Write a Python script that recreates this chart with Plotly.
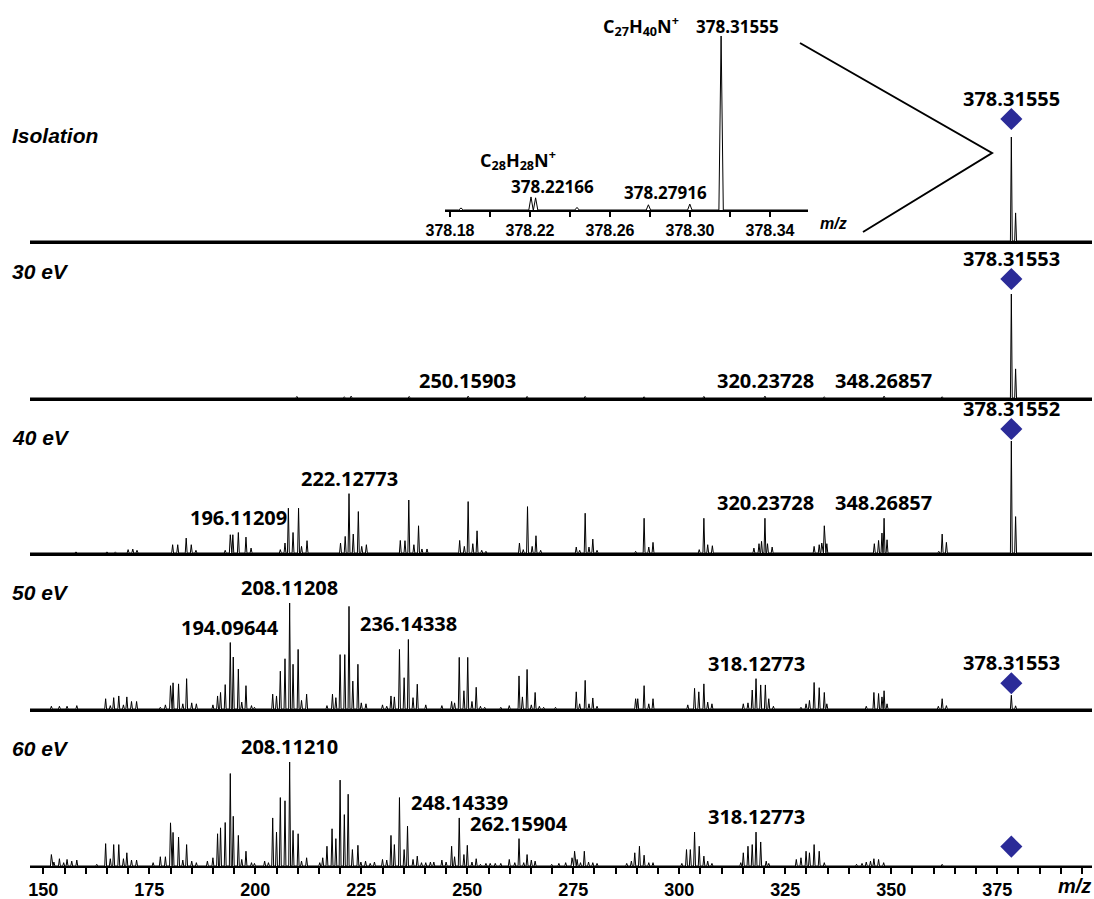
import plotly.graph_objects as go

# ---------------- data (m/z, relative intensity per panel) ----------------
panel_names = ["Isolation", "30 eV", "40 eV", "50 eV", "60 eV"]

iso_mz = [378.316, 379.32]
iso_int = [100, 27]

ev30_mz = [209.8, 221.0, 222.6, 236.3, 250.2, 264.1, 277.8, 291.7, 305.8, 320.2, 334.2, 348.3, 362.0, 378.316, 379.32]
ev30_int = [1.5, 1.2, 1.8, 1.5, 1.8, 1.5, 1.5, 1.2, 1.5, 1.8, 1.2, 1.8, 1.2, 100, 28]

ev40_mz = [157.7, 165.0, 167.0, 170.0, 171.1, 172.1,
           180.5, 181.7, 183.7, 184.9, 186.0,
           192.9, 194.1, 194.7, 196.0, 197.8, 199.0,
           205.9, 207.0, 207.8, 208.9, 210.2, 210.9, 212.2,
           220.1, 221.2, 222.1, 223.1, 224.3, 225.1, 226.2,
           234.2, 235.3, 236.2, 237.4, 238.5, 239.3, 240.5,
           248.2, 249.3, 250.2, 251.3, 252.3, 253.4, 254.4,
           262.3, 263.2, 264.2, 265.3, 266.2, 267.3,
           275.7, 276.5, 277.8, 278.7, 279.6, 280.6,
           289.7, 291.7, 292.8, 293.8,
           304.7, 305.8, 306.7, 307.8,
           317.6, 318.8, 319.4, 320.2, 320.8, 321.9,
           331.8, 333.0, 333.6, 334.2, 334.8,
           346.0, 347.0, 347.8, 348.3, 349.0,
           361.2, 362.0, 363.0,
           378.316, 379.32]
ev40_int = [1, 1, 1, 3, 3.5, 2.4,
            7.4, 7.4, 13.3, 7.4, 2.4,
            2.4, 16.3, 16.3, 18.3, 14.2, 4.4,
            3, 8.9, 40, 18.3, 40, 5.9, 11,
            8.9, 14.8, 53, 16.9, 37, 5.9, 7.4,
            11.2, 11, 47.3, 7.4, 24.3, 3.6, 3.6,
            11.2, 5.9, 45.9, 8.3, 19.8, 2.4, 1.5,
            8.9, 3, 41.4, 5.9, 15.4, 2.4,
            5.3, 2.4, 35.5, 5.3, 12.4, 2.4,
            1.5, 31, 5.3, 9.5,
            3, 31, 7.4, 6.5,
            4.4, 8.3, 10.4, 31, 8.3, 5.3,
            5.9, 7.4, 8.9, 24.3, 8.3,
            8.3, 11.2, 17.8, 31, 11.8,
            1.5, 16.9, 9.5,
            100, 32.5]

ev50_mz = [151.9, 153.8, 155.6, 157.9,
           164.7, 165.8, 166.6, 167.8, 168.9, 169.7, 170.8, 172.0,
           177.6, 178.8, 180.0, 180.6, 181.9, 182.9, 183.8, 185.0, 186.1,
           190.0, 191.1, 191.8, 192.9, 194.1, 194.8, 196.0, 196.8, 197.8, 199.1, 199.8,
           204.1, 205.0, 205.9, 207.0, 208.1, 208.9, 210.1, 210.9, 212.1,
           216.9, 218.2, 219.0, 220.0, 221.1, 222.1, 223.0, 224.2, 225.0, 226.1,
           230.0, 231.0, 232.0, 232.8, 234.0, 235.1, 236.1, 237.2, 238.2, 240.2,
           244.0, 246.3, 247.0, 248.1, 249.2, 250.1, 251.1, 252.1, 253.1, 254.1,
           257.9, 259.9, 262.2, 263.0, 264.1, 265.1, 266.0, 267.0, 268.0,
           270.8, 275.7, 276.5, 277.8, 278.7, 279.6, 280.6,
           289.7, 290.2, 291.7, 292.8, 293.8,
           302.0, 303.6, 304.6, 305.8, 306.7, 307.7,
           315.1, 316.2, 317.2, 318.1, 319.2, 320.3, 321.1, 322.2,
           328.7, 329.9, 330.7, 331.8, 333.0, 334.2, 334.8,
           344.1, 345.9, 347.0, 347.8, 348.3, 349.0,
           361.1, 362.0, 363.0,
           378.316, 379.32]
ev50_int = [2.6, 2.6, 2.6, 3.2,
            9.7, 3.2, 10.7, 12.3, 3.9, 11.4, 7.1, 7.1,
            1.6, 3.9, 22, 24.7, 23.7, 4.9, 28.6, 5.8, 4.9,
            3.9, 12.3, 15.6, 23, 62.7, 49, 37.7, 6.5, 22, 3.2, 1.6,
            14, 12.3, 35.7, 47.4, 100, 42.2, 56.2, 8.1, 14,
            3.2, 14, 10.7, 51.3, 51.3, 96.8, 26.3, 42.2, 5.8, 4.9,
            3.9, 2.6, 12.3, 11.4, 56.2, 29.5, 65.6, 10.7, 23.4, 3.9,
            3.2, 7.1, 5.8, 48.7, 17.2, 48.7, 7.1, 20.5, 2.6, 1.6,
            1.6, 3.2, 31.2, 11.4, 37.3, 3.9, 15.6, 2.6, 1.6,
            1.6, 16.2, 4.9, 27, 4.9, 10.4, 2.6,
            9.7, 9.7, 22, 4.9, 9.7,
            3.9, 19.5, 16.2, 23.7, 6.5, 4.9,
            4.9, 5.8, 17.9, 28.6, 22.7, 22.7, 9.7, 2.6,
            1.6, 4.9, 8.1, 25, 20.1, 15.6, 4.9,
            2.6, 15.6, 14.6, 11.4, 17.2, 4.9,
            2.6, 9.7, 3.2,
            13, 3]

ev60_mz = [151.9, 152.5, 153.8, 154.8, 155.6, 156.7, 157.9, 162.6,
           164.7, 165.8, 166.6, 167.8, 168.9, 169.7, 170.8, 172.0,
           175.9, 177.6, 178.8, 180.0, 180.6, 181.9, 182.9, 183.8, 185.0, 186.1,
           188.7, 190.0, 191.1, 191.8, 192.9, 194.1, 194.8, 196.0, 196.8, 197.8, 199.1, 199.8,
           202.2, 203.1, 204.1, 205.0, 205.9, 207.0, 208.1, 208.9, 210.1, 210.9, 212.1,
           215.2, 215.9, 216.9, 218.1, 219.0, 220.0, 221.0, 221.9, 222.9, 224.2, 224.9, 226.0, 227.1, 228.1,
           230.0, 231.0, 232.0, 232.8, 234.0, 235.1, 235.9, 237.2, 238.2, 239.2, 240.2, 241.3, 242.1, 244.0, 245.0,
           246.3, 247.0, 248.1, 249.2, 250.0, 251.1, 252.1, 253.1, 254.4, 255.4, 256.6, 257.9, 259.9, 261.2,
           262.2, 263.3, 264.1, 265.1, 266.0,
           269.9, 271.6, 273.2, 274.7, 275.3, 275.9, 276.7, 277.6, 278.6, 279.6, 280.6,
           287.6, 288.7, 289.5, 290.6, 291.7, 292.8, 293.8,
           300.6, 301.7, 302.6, 303.6, 304.7, 305.8, 306.7, 307.7,
           314.5, 315.1, 316.2, 317.2, 318.1, 319.2, 320.5, 321.1,
           327.6, 328.7, 329.9, 330.7, 331.8, 333.0, 334.2,
           341.8, 343.1, 344.1, 345.1, 345.9, 347.0, 348.2,
           362.0, 378.316]
ev60_int = [11, 3.8, 7, 3.2, 6.3, 4.7, 5.7, 1.6,
            21.5, 7, 20.6, 20.6, 7, 12.7, 5.7, 5.7,
            3.2, 8.9, 8.9, 41.5, 32.3, 27.8, 5.7, 20.6, 4.7, 3.2,
            4.7, 7.9, 31, 36.7, 41.8, 88.9, 47.8, 29.4, 6.3, 14.2, 3.2, 2.5,
            4.7, 3.2, 46.2, 32.6, 65.8, 62.7, 100, 34.2, 31, 4.7, 7.9,
            3.2, 7.9, 19, 35.8, 26.3, 82.6, 49.4, 69, 15.8, 19.9, 3.8, 4.7, 2.5, 3.8,
            6.3, 5.7, 29.4, 20.6, 65.8, 15.8, 38.3, 6.3, 9.5, 3.2, 3.2, 3.8, 3.8, 5.7, 3.8,
            19, 8.9, 46.2, 11, 19.9, 3.8, 7, 1.6, 2.5, 2.5, 2.5, 2.5, 6.3, 3.2,
            26.3, 3.2, 11, 5.7, 4.7,
            1.6, 2.5, 3.2, 7.9, 14.2, 6.3, 3.2, 14.2, 3.8, 3.2, 2.5,
            2.5, 4.7, 12.7, 19, 10.4, 3.2, 3.2,
            2.5, 15.8, 15.8, 32.6, 19, 9.5, 4.7, 2.5,
            3.2, 12.7, 19, 20.6, 32.6, 23.1, 4.7, 2.5,
            6.3, 7.9, 14.2, 12.7, 20.6, 14.2, 3.2,
            1.6, 2.5, 3.8, 4.7, 7, 6.3, 3.2,
            1.6, 0.4]

# labelled fragment peaks per panel
iso_labels = []
ev30_labels = [(250.15903, "250.15903"), (320.23728, "320.23728"), (348.26857, "348.26857")]
ev40_labels = [(196.11209, "196.11209"), (222.12773, "222.12773"), (320.23728, "320.23728"), (348.26857, "348.26857")]
ev50_labels = [(194.09644, "194.09644"), (208.11208, "208.11208"), (236.14338, "236.14338"), (318.12773, "318.12773")]
ev60_labels = [(208.11210, "208.11210"), (248.14339, "248.14339"), (262.15904, "262.15904"), (318.12773, "318.12773")]
precursor_labels = ["378.31555", "378.31553", "378.31552", "378.31553", None]
precursor_mz = 378.316

# inset (isolation window zoom)
inset_mz = [378.1855, 378.2205, 378.2228, 378.2435, 378.2792, 378.2999, 378.31555]
inset_int = [1.2, 7.5, 7.0, 1.5, 3.0, 3.4, 100]
inset_labels = [(378.31555, "378.31555"), (378.22166, "378.22166"), (378.27916, "378.27916")]
inset_ticks = [378.18, 378.22, 378.26, 378.30, 378.34]

x_ticks = [150, 175, 200, 225, 250, 275, 300, 325, 350, 375]

# ---------------- layout helpers ----------------
W, H = 1094, 899
def fy(px):
    return 1 - px / H
def fx(px):
    return px / W

X0, X1 = 146.86, 397.34
PANEL_H = 150
# (baseline pixel, pixel height of 100 %, diamond offset px)
geo = [(241, 104, 18), (398, 104, 15), (553, 112, 12), (709, 106, 12), (866, 104, 19)]
panels = [(iso_mz, iso_int, iso_labels), (ev30_mz, ev30_int, ev30_labels),
          (ev40_mz, ev40_int, ev40_labels), (ev50_mz, ev50_int, ev50_labels),
          (ev60_mz, ev60_int, ev60_labels)]

def profile(mz, inten, hw, lo, hi):
    pairs = sorted(zip(mz, inten))
    xs, ys = [lo], [0]
    for m, h in pairs:
        xs += [m - hw, m, m + hw]
        ys += [0, h, 0]
    xs.append(hi)
    ys.append(0)
    return xs, ys

def peak_height(mz, inten, target, tol=0.6):
    best = 0
    for m, h in zip(mz, inten):
        if abs(m - target) <= tol and h > best:
            best = h
    return best

LBL_FONT = dict(family="Open Sans, DejaVu Sans, sans-serif", size=20, color="black", weight="bold")
BLUE = "#2b2b98"

fig = go.Figure()
layout = dict(width=W, height=H, margin=dict(l=0, r=0, t=0, b=0, pad=0, autoexpand=False),
              template="none",
              paper_bgcolor="white", plot_bgcolor="white", showlegend=False)
annotations = []

for i, ((mz, inten, labels), (base, h100, doff)) in enumerate(zip(panels, geo)):
    k = i + 1
    R = 100.0 * PANEL_H / h100
    per_px = R / PANEL_H
    xs, ys = profile(mz, inten, 0.22, X0, X1)
    fig.add_trace(go.Scatter(x=xs, y=ys, mode="lines", line=dict(color="black", width=1),
                             xaxis=f"x{k}", yaxis=f"y{k}", hoverinfo="skip"))
    # precursor diamond
    ph = peak_height(mz, inten, precursor_mz, 0.2)
    dy = ph + doff * per_px
    fig.add_trace(go.Scatter(x=[precursor_mz], y=[dy], mode="markers",
                             marker=dict(symbol="diamond", size=17, color=BLUE, line=dict(width=0)),
                             xaxis=f"x{k}", yaxis=f"y{k}", cliponaxis=False, hoverinfo="skip"))
    if precursor_labels[i]:
        annotations.append(dict(x=precursor_mz, y=dy, xref=f"x{k}", yref=f"y{k}",
                                text=precursor_labels[i], showarrow=False, xanchor="center",
                                yanchor="middle", yshift=21, font=LBL_FONT))
    for m, t in labels:
        annotations.append(dict(x=m, y=peak_height(mz, inten, m), xref=f"x{k}", yref=f"y{k}",
                                text=t, showarrow=False, xanchor="center", yanchor="bottom",
                                yshift=0, font=LBL_FONT))
    xa = dict(domain=[fx(30), fx(1092)], range=[X0, X1], anchor=f"y{k}", showline=True,
              linecolor="black", linewidth=3, showgrid=False, zeroline=False, ticks="",
              showticklabels=False, fixedrange=True, automargin=False)
    if k == 5:
        xa.update(linewidth=2, ticks="outside", ticklen=6, tickwidth=2, tickcolor="black",
                  showticklabels=True, tickvals=x_ticks,
                  tickfont=dict(family="Liberation Sans, Arial, sans-serif", size=18,
                                color="black", weight="bold"),
                  minor=dict(dtick=5, tick0=150, ticks="outside", ticklen=6, tickwidth=2,
                             tickcolor="black"))
    layout[f"xaxis{k}"] = xa
    layout[f"yaxis{k}"] = dict(domain=[fy(base), fy(base - PANEL_H)], range=[0, R],
                               visible=False, fixedrange=True, automargin=False)
    # panel label
    lbl_y = [135, 272, 437, 592, 748][i]
    annotations.append(dict(x=fx(10), y=fy(lbl_y), xref="paper", yref="paper", xanchor="left",
                            yanchor="middle", text=panel_names[i], showarrow=False,
                            font=dict(family="Liberation Sans, Arial, sans-serif", size=21,
                                      color="black", weight="bold", style="italic")))

# main m/z label
annotations.append(dict(x=fx(1074), y=fy(886), xref="paper", yref="paper", text="m/z",
                        xanchor="center", yanchor="middle", showarrow=False,
                        font=dict(family="Liberation Sans, Arial, sans-serif",
                                  size=20, color="black", weight="bold", style="italic")))

# ---------------- inset ----------------
IX0, IX1 = 378.1775, 378.359
xs, ys = profile(inset_mz, inset_int, 0.0011, IX0, IX1)
fig.add_trace(go.Scatter(x=xs, y=ys, mode="lines", line=dict(color="black", width=1),
                         xaxis="x6", yaxis="y6", hoverinfo="skip"))
layout["xaxis6"] = dict(domain=[fx(445), fx(808)], range=[IX0, IX1], anchor="y6",
                        showline=True, linecolor="black", linewidth=2, showgrid=False,
                        zeroline=False, ticks="outside", ticklen=5, tickwidth=1.5,
                        tickcolor="black", tickvals=inset_ticks, tickformat=".2f",
                        tickfont=dict(family="Liberation Sans, Arial, sans-serif", size=16,
                                      color="black", weight="bold"),
                        minor=dict(dtick=0.02, tick0=378.18, ticks="outside", ticklen=5,
                                   tickwidth=1.5, tickcolor="black"),
                        fixedrange=True, automargin=False)
layout["yaxis6"] = dict(domain=[fy(210), fy(36)], range=[0, 100], visible=False,
                        fixedrange=True, automargin=False)

# (x shift, y shift) of the label centre relative to the peak top, in px
inset_shift = {"378.31555": (16, 9), "378.22166": (19, 10), "378.27916": (17, 12)}
INSET_FONT = dict(family="Open Sans, DejaVu Sans, sans-serif", size=17, color="black", weight="bold")
for m, t in inset_labels:
    xsft, ysft = inset_shift[t]
    annotations.append(dict(x=m, y=peak_height(inset_mz, inset_int, m, 0.002), xref="x6",
                            yref="y6", text=t, showarrow=False, xanchor="center",
                            yanchor="middle", xshift=xsft, yshift=ysft, font=INSET_FONT))
FORM_FONT = dict(family="Open Sans, DejaVu Sans, sans-serif", size=18, color="black", weight="bold")
annotations.append(dict(x=fx(641), y=fy(26), xref="paper", yref="paper", showarrow=False,
                        xanchor="center", yanchor="middle",
                        text="C<sub>27</sub>H<sub>40</sub>N<sup>+</sup>", font=FORM_FONT))
annotations.append(dict(x=fx(518), y=fy(160), xref="paper", yref="paper", showarrow=False,
                        xanchor="center", yanchor="middle",
                        text="C<sub>28</sub>H<sub>28</sub>N<sup>+</sup>", font=FORM_FONT))
annotations.append(dict(x=fx(833), y=fy(223), xref="paper", yref="paper", text="m/z",
                        xanchor="center", yanchor="middle", showarrow=False,
                        font=dict(family="Liberation Sans, Arial, sans-serif",
                                  size=16, color="black", weight="bold", style="italic")))

layout["annotations"] = annotations
layout["shapes"] = [dict(type="path", xref="paper", yref="paper",
                         path=f"M {fx(800)},{fy(43)} L {fx(992)},{fy(153)} L {fx(863)},{fy(232)}",
                         line=dict(color="black", width=2))]
fig.update_layout(**layout)
fig.write_html("out.html")
